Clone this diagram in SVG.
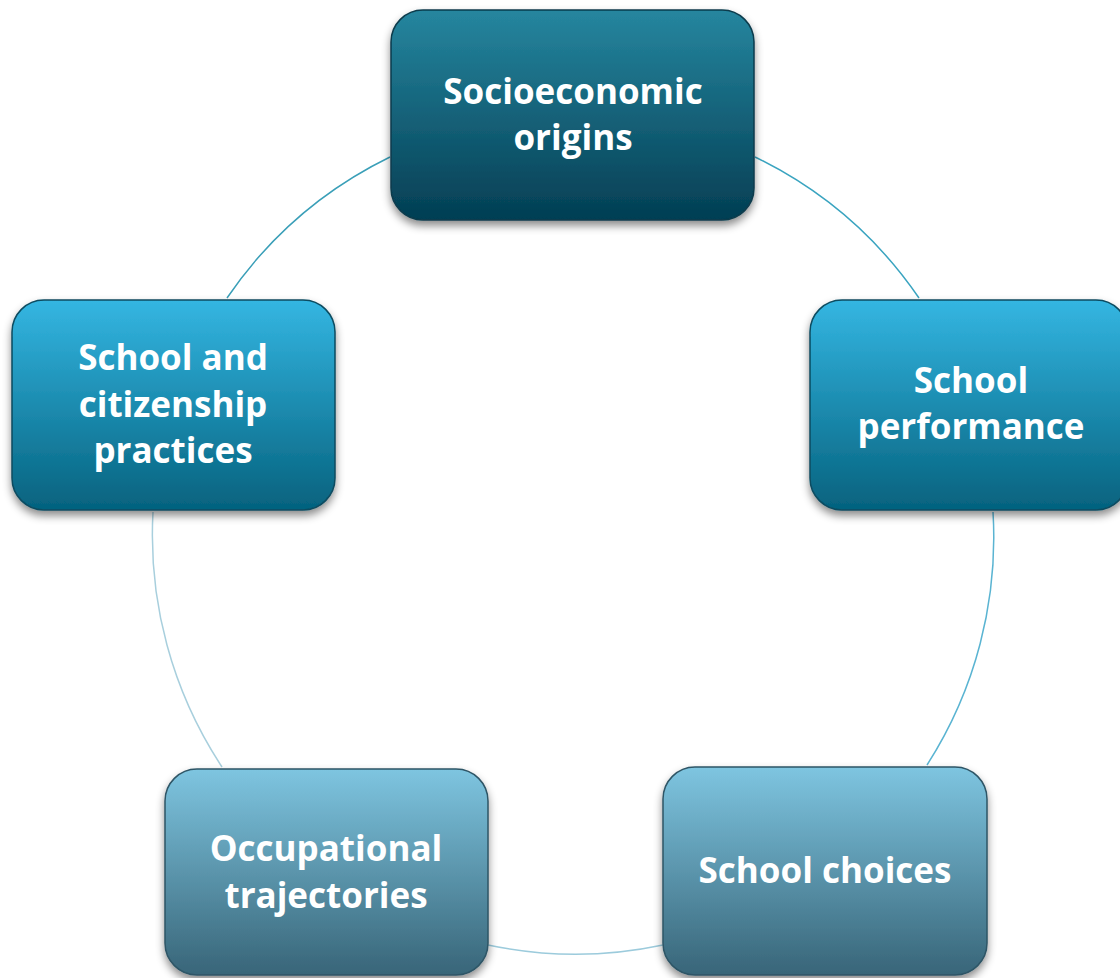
<svg xmlns="http://www.w3.org/2000/svg" width="1120" height="978" viewBox="0 0 1120 978">
<style>
.lbl{font-family:"Open Sans","Liberation Sans",sans-serif;font-weight:bold;font-size:35px;fill:#ffffff;text-anchor:middle}
.box{stroke-width:1.5}
.arc{fill:none;stroke-width:1.5}
</style>
<defs>
<linearGradient id="gTop" x1="0" y1="0" x2="0" y2="1">
<stop offset="0" stop-color="#26869f"/><stop offset="1" stop-color="#033e53"/>
</linearGradient>
<linearGradient id="gMid" x1="0" y1="0" x2="0" y2="1">
<stop offset="0" stop-color="#34b6e2"/><stop offset="1" stop-color="#05627e"/>
</linearGradient>
<linearGradient id="gBot" x1="0" y1="0" x2="0" y2="1">
<stop offset="0" stop-color="#7ec5e0"/><stop offset="1" stop-color="#386578"/>
</linearGradient>
<filter id="sh" x="-10%" y="-10%" width="120%" height="130%">
<feDropShadow dx="0" dy="5" stdDeviation="4" flood-color="#000" flood-opacity="0.45"/>
</filter>
</defs>
<g id="connectors">
<path class="arc" stroke="#3a9fb8" d="M390,157 A421,421 0 0 0 227,298"/>
<path class="arc" stroke="#3aa4c0" d="M755,157 A421,421 0 0 1 919,298"/>
<path class="arc" stroke="#5ab4d2" d="M993,512 A421,421 0 0 1 927,765"/>
<path class="arc" stroke="#9ccbdc" d="M663,945 A421,421 0 0 1 488,945"/>
<path class="arc" stroke="#a8cfdd" d="M222,767 A421,421 0 0 1 153,512"/>
</g>
<g id="node-socioeconomic">
<rect class="box" x="391" y="10" width="363" height="210" rx="32" fill="url(#gTop)" stroke="#0a3b4c" filter="url(#sh)"/>
<text class="lbl" x="573" y="104">Socioeconomic</text>
<text class="lbl" x="573" y="150">origins</text>
</g>
<g id="node-performance">
<rect class="box" x="810" y="300" width="318" height="210" rx="32" fill="url(#gMid)" stroke="#0a4b60" filter="url(#sh)"/>
<text class="lbl" x="971" y="393">School</text>
<text class="lbl" x="971" y="439">performance</text>
</g>
<g id="node-choices">
<rect class="box" x="663" y="767" width="324" height="208" rx="32" fill="url(#gBot)" stroke="#2e5566" filter="url(#sh)"/>
<text class="lbl" x="825" y="883">School choices</text>
</g>
<g id="node-occupational">
<rect class="box" x="165" y="769" width="323" height="206" rx="32" fill="url(#gBot)" stroke="#2e5566" filter="url(#sh)"/>
<text class="lbl" x="326" y="861">Occupational</text>
<text class="lbl" x="326" y="908">trajectories</text>
</g>
<g id="node-citizenship">
<rect class="box" x="12" y="300" width="323" height="210" rx="32" fill="url(#gMid)" stroke="#0a4b60" filter="url(#sh)"/>
<text class="lbl" x="173" y="370">School and</text>
<text class="lbl" x="173" y="417">citizenship</text>
<text class="lbl" x="173" y="463">practices</text>
</g>
</svg>
